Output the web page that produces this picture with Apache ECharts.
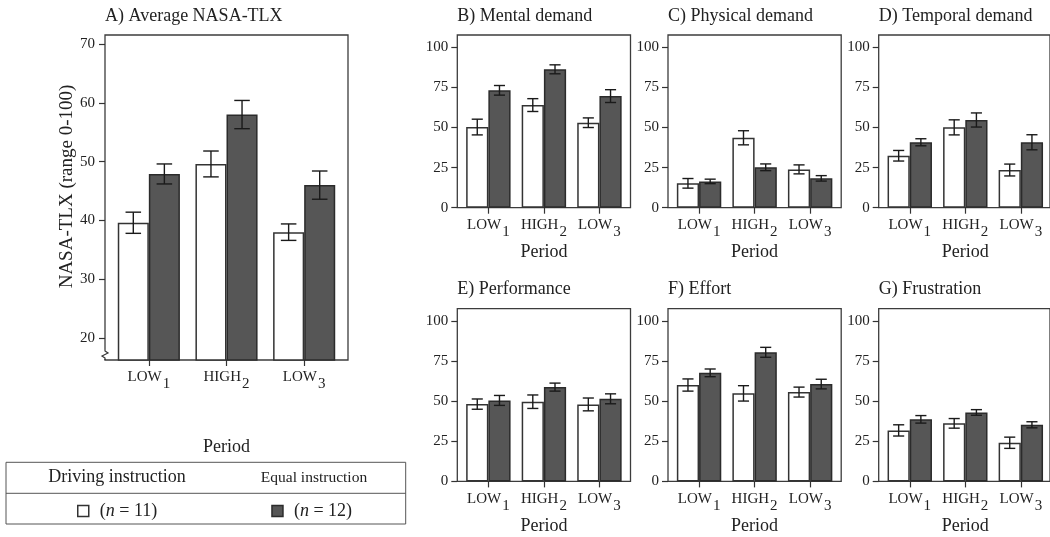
<!DOCTYPE html>
<html><head><meta charset="utf-8">
<script src="https://cdn.jsdelivr.net/npm/echarts@6/dist/echarts.min.js"></script>
<style>html,body{margin:0;padding:0;background:#fff}#c{width:1050px;height:537px}</style>
</head><body><div id="c"></div>
<script>
// ---------- data ----------
const categories = ['LOW1', 'HIGH2', 'LOW3'];
const groupNames = ['Driving instruction', 'Equal instruction'];
const groupN = [11, 12];
const panelTitles = ['A) Average NASA-TLX', 'B) Mental demand', 'C) Physical demand', 'D) Temporal demand',
  'E) Performance', 'F) Effort', 'G) Frustration'];
const yTicksA = [20, 30, 40, 50, 60, 70];
const yTicksSub = [0, 25, 50, 75, 100];

const tlxDriving = [39.6, 49.6, 38.0];
const tlxDrivingErr = [1.8, 2.2, 1.4];
const tlxEqual = [47.9, 58.0, 46.0];
const tlxEqualErr = [1.7, 2.4, 2.4];

const mentalDriving = [50.3, 64.0, 53.0];
const mentalDrivingErr = [4.9, 4.0, 3.0];
const mentalEqual = [73.2, 86.3, 69.6];
const mentalEqualErr = [3.0, 2.8, 4.0];

const physicalDriving = [15.2, 43.6, 23.9];
const physicalDrivingErr = [3.0, 4.4, 2.8];
const physicalEqual = [16.4, 25.2, 18.3];
const physicalEqualErr = [1.4, 2.1, 1.7];

const temporalDriving = [32.4, 50.1, 23.5];
const temporalDrivingErr = [3.3, 4.7, 3.7];
const temporalEqual = [40.8, 54.7, 40.8];
const temporalEqualErr = [2.2, 4.4, 4.7];

const performanceDriving = [48.2, 49.7, 48.0];
const performanceDrivingErr = [3.2, 4.2, 4.0];
const performanceEqual = [50.5, 58.8, 51.5];
const performanceEqualErr = [3.1, 2.5, 3.1];

const effortDriving = [60.1, 54.9, 55.7];
const effortDrivingErr = [3.8, 4.8, 3.1];
const effortEqual = [67.7, 80.5, 60.7];
const effortEqualErr = [2.4, 3.1, 3.0];

const frustrationDriving = [31.8, 36.2, 24.1];
const frustrationDrivingErr = [3.5, 3.0, 3.5];
const frustrationEqual = [38.7, 43.0, 35.3];
const frustrationEqualErr = [2.35, 1.75, 1.9];

// ---------- layout ----------
const FONT = 'Liberation Serif';
const TXT = '#222';
const panelData = [
  [tlxDriving, tlxDrivingErr, tlxEqual, tlxEqualErr],
  [mentalDriving, mentalDrivingErr, mentalEqual, mentalEqualErr],
  [physicalDriving, physicalDrivingErr, physicalEqual, physicalEqualErr],
  [temporalDriving, temporalDrivingErr, temporalEqual, temporalEqualErr],
  [performanceDriving, performanceDrivingErr, performanceEqual, performanceEqualErr],
  [effortDriving, effortDrivingErr, effortEqual, effortEqualErr],
  [frustrationDriving, frustrationDrivingErr, frustrationEqual, frustrationEqualErr]
];
const colX = [457.3, 668, 878.7];
const W = 173.2, H = 172.7;
const layout = [
  {l: 105, t: 35, w: 243, h: 325, pad: 5, min: 16.26, max: 71.53, ticks: yTicksA, nameGap: 78, labMargin: 10}
];
[35, 308.7].forEach(function (t) {
  colX.forEach(function (l) {
    layout.push({l: l, t: t, w: W, h: H, pad: 3.3, min: 0, max: 107.7, ticks: yTicksSub, nameGap: 36, labMargin: 9});
  });
});

const grids = [], xAxes = [], yAxes = [], series = [], titles = [];
const barStyles = [
  {color: '#ffffff', borderColor: '#333', borderWidth: 1.5},
  {color: '#565656', borderColor: '#2b2b2b', borderWidth: 1.5}
];

function catLabel(v) {
  const m = v.match(/^([A-Z]+)(\d)$/);
  return '{b|' + m[1] + '}{s|' + m[2] + '}';
}

layout.forEach(function (p, i) {
  const fi = 2 * i, pi = 2 * i + 1;
  grids.push({left: p.l, top: p.t, width: p.w, height: p.h, show: true, borderColor: '#3c3c3c', borderWidth: 1.3, containLabel: false});
  grids.push({left: p.l + p.pad, top: p.t, width: p.w - 2 * p.pad, height: p.h, containLabel: false});
  xAxes.push({gridIndex: fi, type: 'value', min: 0, max: 1, show: false});
  yAxes.push({
    gridIndex: fi, type: 'value', min: p.min, max: p.max,
    axisLine: {show: false}, splitLine: {show: false},
    axisTick: {show: true, length: 6, lineStyle: {color: '#333', width: 1.2}, customValues: p.ticks},
    axisLabel: {fontFamily: FONT, fontSize: 15, color: TXT, margin: p.labMargin, customValues: p.ticks}
  });
  xAxes.push({
    gridIndex: pi, type: 'category', data: categories,
    axisLine: {show: false},
    axisTick: {show: true, alignWithLabel: true, interval: 0, length: 6, lineStyle: {color: '#333', width: 1.2}},
    axisLabel: {
      margin: 10, interval: 0, hideOverlap: false, formatter: catLabel,
      rich: {
        b: {fontFamily: FONT, fontSize: 15, color: TXT, verticalAlign: 'top', lineHeight: 16},
        s: {fontFamily: FONT, fontSize: 15, color: TXT, verticalAlign: 'top', lineHeight: 16, padding: [7, 0, 0, 1]}
      }
    },
    name: 'Period', nameLocation: 'middle', nameGap: p.nameGap,
    nameTextStyle: {fontFamily: FONT, fontSize: 18, color: TXT}
  });
  yAxes.push({gridIndex: pi, type: 'value', min: p.min, max: p.max, show: false, splitLine: {show: false}});

  titles.push({
    text: panelTitles[i], left: p.l, top: p.t - 28, padding: 0,
    textStyle: {fontFamily: FONT, fontSize: 18, fontWeight: 'normal', color: TXT}
  });

  const d = panelData[i];
  [0, 1].forEach(function (g) {
    series.push({
      type: 'bar', name: groupNames[g], xAxisIndex: pi, yAxisIndex: pi,
      data: d[2 * g], barGap: '0%', barCategoryGap: '20%',
      itemStyle: barStyles[g], clip: true, silent: true, z: 2
    });
  });
  const errData = [];
  [0, 1].forEach(function (g) {
    d[2 * g].forEach(function (m, k) { errData.push([k, m, d[2 * g + 1][k], g]); });
  });
  series.push({
    type: 'custom', xAxisIndex: pi, yAxisIndex: pi, data: errData, z: 5, silent: true,
    encode: {x: 0, y: 1},
    renderItem: function (params, api) {
      const x = api.value(0), m = api.value(1), e = api.value(2), g = api.value(3);
      const band = api.size([1, 0])[0];
      const bw = band * 0.4;
      const cx = api.coord([x, m])[0] + (g === 0 ? -0.5 : 0.5) * bw;
      const yt = api.coord([x, m + e])[1], yb = api.coord([x, m - e])[1];
      const cap = bw * 0.25;
      const st = {stroke: '#1a1a1a', lineWidth: 1.4};
      return {type: 'group', children: [
        {type: 'line', shape: {x1: cx, y1: yt, x2: cx, y2: yb}, style: st},
        {type: 'line', shape: {x1: cx - cap, y1: yt, x2: cx + cap, y2: yt}, style: st},
        {type: 'line', shape: {x1: cx - cap, y1: yb, x2: cx + cap, y2: yb}, style: st}
      ]};
    }
  });
});

// axis break marker & legend table (decoration)
const A = layout[0];
const ab = A.t + A.h;
const graphics = [
  {type: 'rect', shape: {x: A.l - 3, y: ab - 11, width: 6, height: 10}, style: {fill: '#fff'}, z: 100},
  {type: 'polyline', shape: {points: [[A.l, ab - 11], [A.l, ab - 9], [A.l + 3, ab - 7], [A.l - 3, ab - 4], [A.l, ab - 2], [A.l, ab]]},
   style: {stroke: '#333', lineWidth: 1.2, fill: null}, z: 101},
  {type: 'text', x: 67, y: 186.5, rotation: Math.PI / 2,
   style: {text: 'NASA-TLX (range 0-100)', font: '19px "Liberation Serif"', fill: TXT, align: 'center', verticalAlign: 'middle'}},
  {type: 'rect', shape: {x: 6, y: 462.3, width: 399.7, height: 61.7}, style: {fill: null, stroke: '#555', lineWidth: 1}},
  {type: 'line', shape: {x1: 6, y1: 493.3, x2: 405.7, y2: 493.3}, style: {stroke: '#555', lineWidth: 1}},
  {type: 'text', x: 117, y: 477.5, style: {text: groupNames[0], font: '18px "Liberation Serif"', fill: TXT, align: 'center', verticalAlign: 'middle'}},
  {type: 'text', x: 314, y: 477.5, style: {text: groupNames[1], font: '15.5px "Liberation Serif"', fill: TXT, align: 'center', verticalAlign: 'middle'}}
];

const chart = echarts.init(document.getElementById('c'), null, {renderer: 'canvas'});
chart.setOption({
  animation: false,
  backgroundColor: '#fff',
  title: titles,
  grid: grids,
  xAxis: xAxes,
  yAxis: yAxes,
  legend: {
    data: groupNames.map(function (n, g) { return {name: n, itemStyle: barStyles[g]}; }),
    left: 77, top: 502, padding: 0, itemWidth: 11, itemHeight: 11, itemGap: 114, selectedMode: false,
    icon: 'rect',
    formatter: function (name) { return '({i|n} = ' + groupN[groupNames.indexOf(name)] + ')'; },
    textStyle: {fontFamily: FONT, fontSize: 18, color: TXT, padding: [0, 0, 0, 6],
      rich: {i: {fontFamily: FONT, fontSize: 18, fontStyle: 'italic', color: TXT}}}
  },
  series: series,
  graphic: graphics
});
</script>
</body></html>
